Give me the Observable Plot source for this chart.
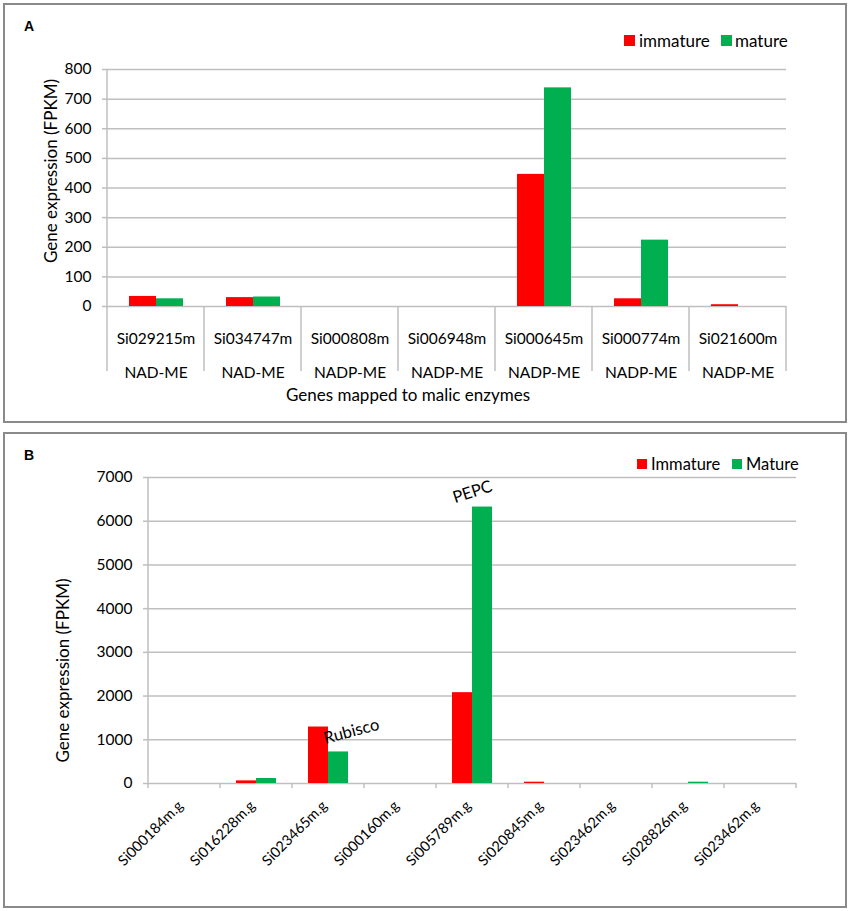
<!DOCTYPE html>
<html><head><meta charset="utf-8">
<script src="https://cdn.jsdelivr.net/npm/d3@7"></script>
<script src="https://cdn.jsdelivr.net/npm/@observablehq/plot@0.6"></script>
<style>
body{margin:0;background:#fff;font-family:Lato,sans-serif;color:#000;}
#page{position:relative;width:851px;height:911px;overflow:hidden;}
.box{position:absolute;border:2px solid #8a8a8a;box-sizing:border-box;background:#fff;}
.plot{position:absolute;}
.tag{position:absolute;font:bold 14px "Liberation Sans",Arial,sans-serif;}
.sw{position:absolute;}
.lt{position:absolute;height:20px;line-height:20px;white-space:nowrap;}
</style></head>
<body><div id="page">
<div class="box" style="left:3px;top:3px;width:844px;height:420px"></div>
<div class="box" style="left:3px;top:432px;width:844px;height:476px"></div>
<div id="pa" class="plot" style="left:5px;top:5px"></div>
<div id="pb" class="plot" style="left:5px;top:434px"></div>
<div class="tag" style="left:24px;top:18px">A</div>
<div class="tag" style="left:24px;top:447px">B</div>
<div id="legA"></div>
<div id="legB"></div>
</div>
<script>
// ---------- data ----------
const genesA = ["Si029215m","Si034747m","Si000808m","Si006948m","Si000645m","Si000774m","Si021600m"];
const enzymesA = ["NAD-ME","NAD-ME","NADP-ME","NADP-ME","NADP-ME","NADP-ME","NADP-ME"];
const immatureA = [34,30,0,0,446,26,6];
const matureA = [26,32,0,0,738,224,0];
const seriesA = ["immature","mature"];
const yTicksA = [0,100,200,300,400,500,600,700,800];

const genesB = ["Si000184m.g","Si016228m.g","Si023465m.g","Si000160m.g","Si005789m.g","Si020845m.g","Si023462m.g","Si028826m.g","Si023462m.g"];
const immatureB = [0,60,1292,0,2078,30,0,0,0];
const matureB = [0,114,722,0,6324,0,0,30,0];
const seriesB = ["Immature","Mature"];
const yTicksB = [0,1000,2000,3000,4000,5000,6000,7000];
const annotB = [{gene:2,text:"Rubisco"},{gene:4,text:"PEPC"}];

const colors = ["#FF0000","#00B050"];
const gridColor = "#bfbfbf";
const font = "Lato, sans-serif";
const fmt = d3.format("d");

// ---------- panel A ----------
const rowsA = genesA.flatMap((g,i)=>[
  {gene:g, series:seriesA[0], value:immatureA[i]},
  {gene:g, series:seriesA[1], value:matureA[i]}]);

const plotA = Plot.plot({
  width:841, height:416, marginLeft:99, marginRight:57, marginTop:64, marginBottom:115,
  style:{fontFamily:font, fontSize:"15px", color:"#000", background:"transparent"},
  fx:{domain:genesA, padding:0, label:null},
  x:{domain:seriesA, paddingInner:0, paddingOuter:0.75, axis:null},
  y:{domain:[0,800]},
  color:{domain:seriesA, range:colors},
  marks:[
    Plot.gridY(yTicksA,{stroke:gridColor, strokeOpacity:1, strokeWidth:1.5}),
    Plot.barY(rowsA,{fx:"gene", x:"series", y:"value", fill:"series"}),
    Plot.axisY(yTicksA,{tickSize:5, tickPadding:11, stroke:gridColor, strokeWidth:1.5, strokeOpacity:1, label:null, fontSize:15.5, tickFormat:fmt}),
    Plot.axisFx({anchor:"bottom", tickSize:0, tickPadding:13, lineHeight:2.2, fontSize:15.5,
      tickFormat:g=>g+"\n"+enzymesA[genesA.indexOf(g)], label:null}),
    Plot.text(["Genes mapped to malic enzymes"],{fx:[genesA[3]], frameAnchor:"bottom", lineAnchor:"middle", dx:-39, dy:89, fontSize:17}),
    Plot.text(["Gene expression (FPKM)"],{fx:[genesA[0]], frameAnchor:"left", textAnchor:"middle", rotate:-90, dx:-56, dy:-17, fontSize:17})
  ]
});
document.getElementById("pa").appendChild(plotA);
{
  const fx = plotA.scale("fx"), y = plotA.scale("y");
  const step = fx.apply(genesA[1]) - fx.apply(genesA[0]);
  const svg = d3.select(plotA);
  const y0 = y.apply(0), yTop = y.apply(800);
  const xs = genesA.map(g=>fx.apply(g)).concat([fx.apply(genesA[genesA.length-1])+step]);
  svg.append("g").attr("stroke",gridColor).attr("stroke-width",1.5)
    .selectAll("line").data(xs).join("line")
    .attr("x1",d=>d).attr("x2",d=>d)
    .attr("y1",(d,i)=>i===0?yTop:y0).attr("y2",y0+65);
}

// ---------- panel B ----------
const rowsB = genesB.flatMap((g,i)=>[
  {gene:i, series:seriesB[0], value:immatureB[i]},
  {gene:i, series:seriesB[1], value:matureB[i]}]);
const idxB = genesB.map((g,i)=>i);

const plotB = Plot.plot({
  width:841, height:472, marginLeft:142, marginRight:49, marginTop:43, marginBottom:123,
  style:{fontFamily:font, fontSize:"15px", color:"#000", background:"transparent"},
  fx:{domain:idxB, padding:0, label:null},
  x:{domain:seriesB, paddingInner:0, paddingOuter:0.72, axis:null},
  y:{domain:[0,7000]},
  color:{domain:seriesB, range:colors},
  marks:[
    Plot.gridY(yTicksB,{stroke:gridColor, strokeOpacity:1, strokeWidth:1.5}),
    Plot.barY(rowsB,{fx:"gene", x:"series", y:"value", fill:"series"}),
    Plot.axisY(yTicksB,{tickSize:5, tickPadding:11, stroke:gridColor, strokeWidth:1.5, strokeOpacity:1, label:null, fontSize:15.5, tickFormat:fmt}),
    Plot.axisFx({anchor:"bottom", tickSize:0, tickPadding:20, tickRotate:-45, dx:-4, fontSize:14.5, tickFormat:i=>genesB[i], label:null}),
    Plot.text(["Gene expression (FPKM)"],{fx:[idxB[0]], frameAnchor:"left", textAnchor:"middle", rotate:-90, dx:-85, dy:40, fontSize:17}),
    Plot.text([annotB[0]],{fx:"gene", x:()=>seriesB[1], y:d=>matureB[d.gene], text:"text",
      textAnchor:"start", lineAnchor:"bottom", rotate:-15, dx:-13, dy:-8, fontSize:16.5}),
    Plot.text([annotB[1]],{fx:"gene", x:()=>seriesB[1], y:d=>matureB[d.gene], text:"text",
      textAnchor:"middle", lineAnchor:"middle", rotate:-18, dx:-10, dy:-15, fontSize:16.5})
  ]
});
document.getElementById("pb").appendChild(plotB);
{
  const fx = plotB.scale("fx"), y = plotB.scale("y");
  const step = fx.apply(idxB[1]) - fx.apply(idxB[0]);
  const svg = d3.select(plotB);
  const y0 = y.apply(0), yTop = y.apply(7000);
  const xs = idxB.map(i=>fx.apply(i)).concat([fx.apply(idxB[idxB.length-1])+step]);
  svg.append("g").attr("stroke",gridColor).attr("stroke-width",1.5)
    .selectAll("line").data(xs).join("line")
    .attr("x1",d=>d).attr("x2",d=>d)
    .attr("y1",(d,i)=>i===0?yTop:y0).attr("y2",y0+5);
}

// ---------- legends ----------
function legend(el, items, pos, size){
  const root = d3.select(el);
  items.forEach((name,i)=>{
    const p = pos[i];
    root.append("div").attr("class","sw")
      .style("left",p.sx+"px").style("top",p.sy+"px")
      .style("width",p.s+"px").style("height",p.s+"px").style("background",colors[i]);
    root.append("div").attr("class","lt").style("font-size",size+"px")
      .style("left",p.tx+"px").style("top",(p.sy+p.s/2-10)+"px").text(name);
  });
}
legend(document.getElementById("legA"), seriesA,
  [{sx:624,sy:35,s:11,tx:639},{sx:721,sy:35,s:11,tx:735}], 17);
legend(document.getElementById("legB"), seriesB,
  [{sx:637,sy:459,s:10,tx:651},{sx:732,sy:459,s:10,tx:746}], 16.5);
</script>
</body></html>
